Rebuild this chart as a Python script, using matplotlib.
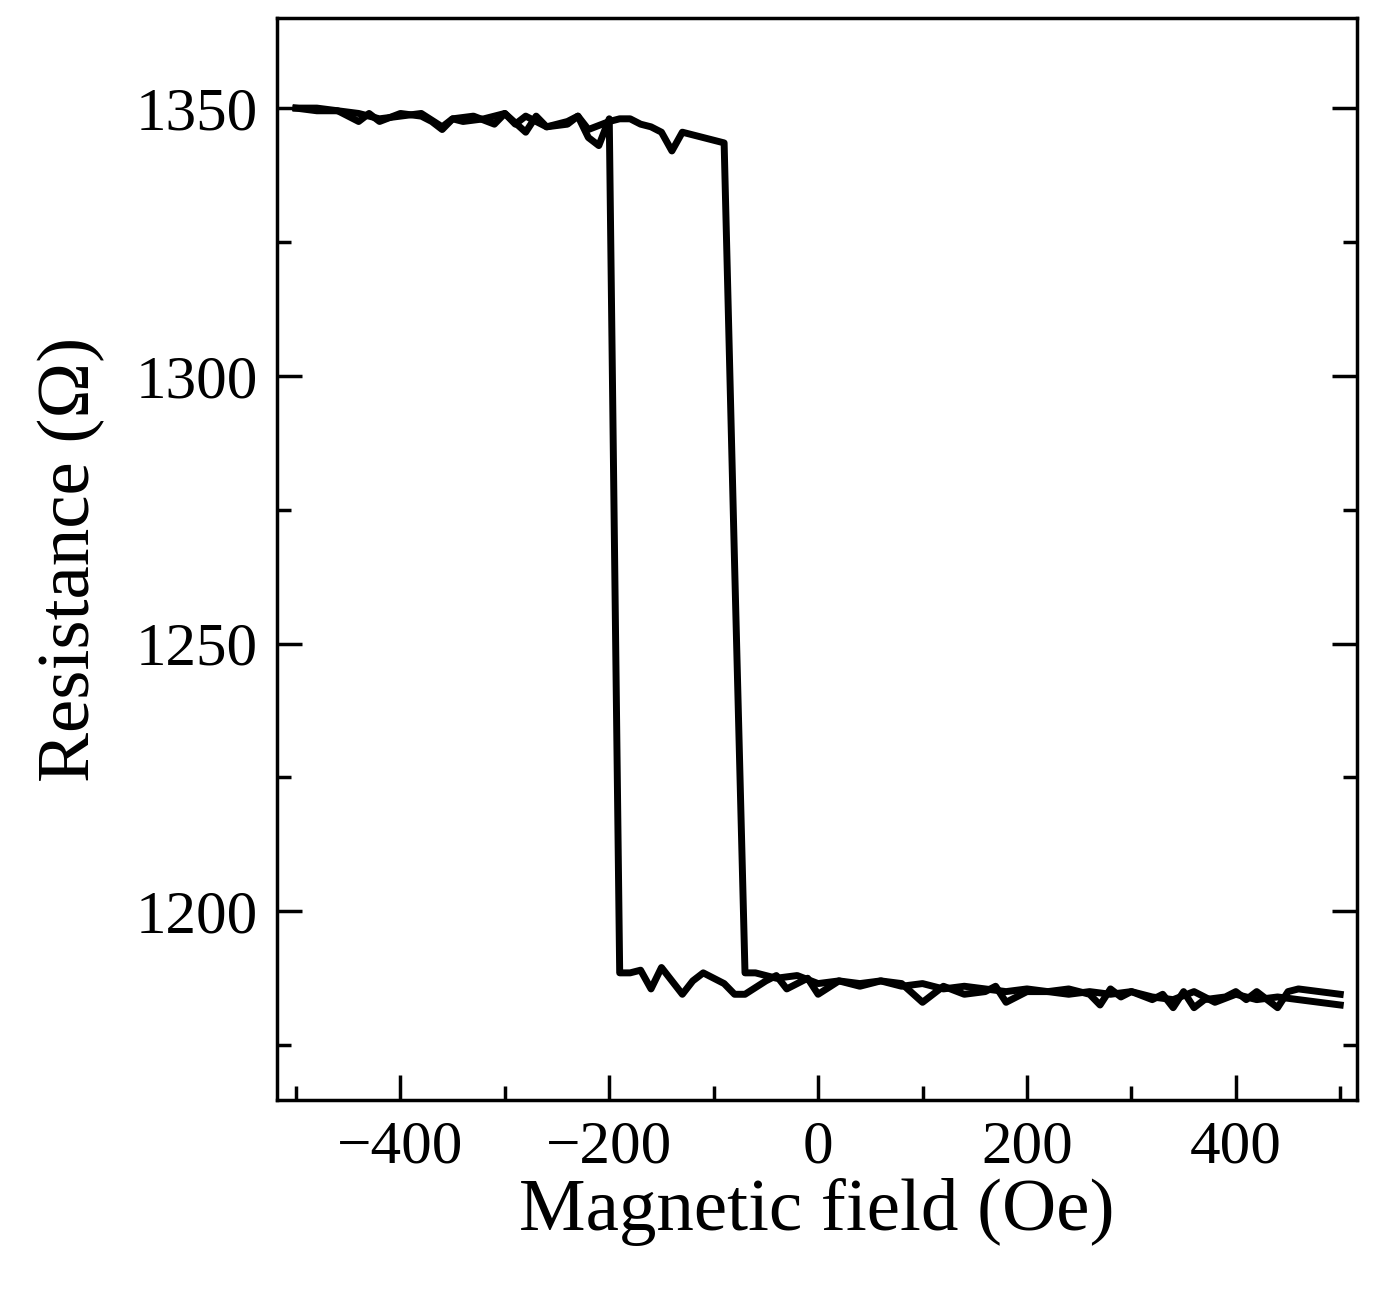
import numpy as np
import matplotlib.pyplot as plt
from matplotlib.ticker import MultipleLocator

plt.rcParams["font.family"] = "Liberation Serif"

# Sweep up: -500 -> 500 Oe (switches high -> low near -80 Oe)
field_up = [-500, -480, -460, -440, -430, -420, -400, -380, -370, -360, -350, -340,
            -320, -300, -290, -280, -260, -240, -230, -220, -200, -190, -180, -170,
            -160, -150, -140, -130, -120, -100, -90, -80, -70, -60, -40, -20, 0, 20,
            40, 60, 80, 100, 120, 140, 160, 180, 200, 220, 240, 260, 280, 300, 320,
            340, 360, 380, 400, 420, 440, 460, 480, 500]
res_up = [1350, 1349.5, 1349.5, 1347.5, 1349, 1347.5, 1349, 1348.5, 1347.5, 1346, 1348,
          1347.5, 1348, 1349, 1347, 1348.5, 1346.5, 1347, 1348.5, 1346, 1347.5, 1348,
          1348, 1347, 1346.5, 1345.5, 1342, 1345.5, 1345, 1344, 1343.5, 1265, 1188.5,
          1188.5, 1187.5, 1188, 1186.5, 1187, 1186, 1187, 1186, 1186.5, 1185.5, 1186,
          1185.5, 1185, 1185.5, 1185, 1184.5, 1185, 1184.5, 1185, 1184, 1183.5, 1185,
          1183, 1184.5, 1183.5, 1184, 1183.5, 1183, 1182.5]

# Sweep down: 500 -> -500 Oe (switches low -> high near -195 Oe)
field_down = [500, 480, 460, 450, 440, 420, 410, 400, 390, 370, 360, 350, 340, 330, 320,
              300, 290, 280, 270, 260, 250, 240, 220, 200, 180, 170, 160, 140, 120, 100,
              80, 60, 40, 20, 0, -10, -30, -40, -50, -70, -80, -90, -110, -120, -130,
              -140, -150, -160, -170, -180, -190, -200, -210, -220, -230, -240, -260,
              -270, -280, -300, -310, -330, -350, -360, -380, -400, -420, -440, -460,
              -480, -500]
res_down = [1184.5, 1185, 1185.5, 1185, 1182, 1185, 1183.5, 1185, 1184, 1183.5, 1182,
            1185, 1182, 1184.5, 1183.5, 1185, 1184, 1185.5, 1182.5, 1184.5, 1185, 1185.5,
            1185, 1185, 1183, 1186, 1185, 1184.5, 1186, 1183, 1186.5, 1187, 1186.5, 1187,
            1184.5, 1187.5, 1185.5, 1188, 1187, 1184.5, 1184.5, 1186.5, 1188.5, 1187,
            1184.5, 1187, 1189.5, 1185.5, 1189, 1188.5, 1188.5, 1348, 1343, 1344.5,
            1348.5, 1347.5, 1346.5, 1348.5, 1345.5, 1349, 1347, 1348.5, 1348, 1346.5,
            1349, 1348.5, 1348, 1349, 1349.5, 1350, 1350]

fig, ax = plt.subplots(figsize=(13.79, 12.96), dpi=100)
fig.subplots_adjust(left=0.201, right=0.984, top=0.986, bottom=0.151)

ax.plot(field_up, res_up, color="black", lw=5)
ax.plot(field_down, res_down, color="black", lw=5)

ax.set_xlim(-518, 516)
ax.set_ylim(1164.7, 1366.8)
ax.xaxis.set_major_locator(MultipleLocator(200))
ax.xaxis.set_minor_locator(MultipleLocator(100))
ax.yaxis.set_major_locator(MultipleLocator(50))
ax.yaxis.set_minor_locator(MultipleLocator(25))
ax.tick_params(which="both", direction="in", right=True, top=False, width=2.5,
               labelsize=44, pad=14)
ax.tick_params(which="major", length=18)
ax.tick_params(which="minor", length=10)
for s in ax.spines.values():
    s.set_linewidth(2.5)

ax.set_xlabel("Magnetic field (Oe)", fontsize=54, labelpad=2)
ax.set_ylabel("Resistance (Ω)", fontsize=54, labelpad=22)

fig.savefig("out.png", dpi=100)
